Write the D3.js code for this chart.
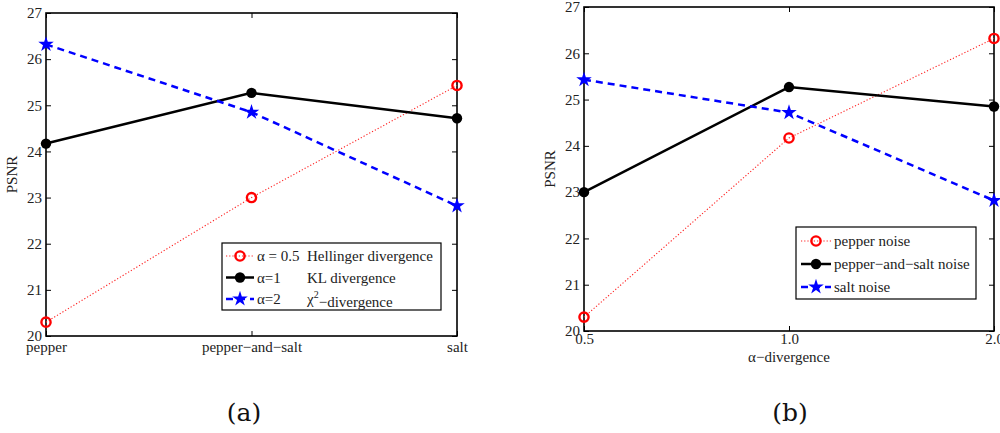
<!DOCTYPE html>
<html>
<head>
<meta charset="utf-8">
<script src="https://cdn.jsdelivr.net/npm/d3@7"></script>
<style>
  body { margin: 0; background: #fff; }
  svg { display: block; font-family: "Liberation Serif", "DejaVu Serif", serif; }
  .tick text { font-size: 15px; fill: #222; font-family: "Liberation Serif", serif; }
  .tick line { stroke: #000; stroke-width: 1; }
  .domain { display: none; }
</style>
</head>
<body>
<div id="chart"></div>
<script>
// ---- data ----
const noiseTypes = ["pepper", "pepper\u2212and\u2212salt", "salt"];
const alphaTicks = ["0.5", "1.0", "2.0"];
const psnrTicks = [20, 21, 22, 23, 24, 25, 26, 27];

// panel (a): one series per alpha, across noise types
const hellinger = [20.3, 23.0, 25.43];
const klDiv = [24.17, 25.27, 24.72];
const chi2Div = [26.32, 24.85, 22.82];

// panel (b): one series per noise type, across alpha
const pepperNoise = [20.3, 24.17, 26.32];
const pepperSaltNoise = [23.0, 25.27, 24.85];
const saltNoise = [25.43, 24.72, 22.82];

const W = 1000, H = 433;
const FS = 15;
const svg = d3.select("#chart").append("svg").attr("width", W).attr("height", H);

const styles = {
  red:   { stroke: "#ff2020", width: 1.1, dash: "1.2,2", marker: "circle" },
  black: { stroke: "#000", width: 2.5, dash: null, marker: "dot" },
  blue:  { stroke: "#0000ff", width: 2.5, dash: "7,5", marker: "star" }
};

function drawMarker(g, kind, x, y) {
  if (kind === "circle") {
    g.append("circle").attr("cx", x).attr("cy", y).attr("r", 4.6)
      .attr("fill", "none").attr("stroke", "#ff0000").attr("stroke-width", 2.4);
  } else if (kind === "dot") {
    g.append("circle").attr("cx", x).attr("cy", y).attr("r", 5.2).attr("fill", "#000");
  } else {
    g.append("path").attr("d", d3.symbol().type(d3.symbolStar).size(75)())
      .attr("transform", `translate(${x},${y})`).attr("fill", "#0000ff");
  }
}

function panel(opt) {
  const { x0, x1, y0, y1, cats, series } = opt;
  const x = d3.scalePoint().domain(cats).range([x0, x1]).padding(0);
  const y = d3.scaleLinear().domain([20, 27]).range([y1, y0]);
  const g = svg.append("g");

  g.append("g").attr("transform", `translate(${x0},0)`)
    .call(d3.axisLeft(y).tickValues(psnrTicks).tickFormat(d3.format("d"))
      .tickSize(-5).tickSizeOuter(0).tickPadding(4));
  g.append("g").attr("transform", `translate(${x1},0)`)
    .call(d3.axisRight(y).tickValues(psnrTicks).tickSize(-5).tickSizeOuter(0).tickFormat(""));
  g.append("g").attr("transform", `translate(0,${y1})`)
    .call(d3.axisBottom(x).tickSize(-5).tickSizeOuter(0).tickPadding(opt.xPad));
  g.append("g").attr("transform", `translate(0,${y0})`)
    .call(d3.axisTop(x).tickSize(-5).tickSizeOuter(0).tickFormat(""));

  g.append("rect").attr("x", x0).attr("y", y0).attr("width", x1 - x0).attr("height", y1 - y0)
    .attr("fill", "none").attr("stroke", "#000").attr("stroke-width", 1.6);

  g.append("text").attr("transform", `translate(${x0 - 29},${(y0 + y1) / 2}) rotate(-90)`)
    .attr("text-anchor", "middle").attr("font-size", FS).attr("fill", "#222").text("PSNR");

  const line = d3.line().x((d, i) => x(cats[i])).y(d => y(d));
  const order = ["red", "black", "blue"];
  series.forEach((vals, k) => {
    const st = styles[order[k]];
    g.append("path").attr("d", line(vals)).attr("fill", "none")
      .attr("stroke", st.stroke).attr("stroke-width", st.width)
      .attr("stroke-dasharray", st.dash);
  });
  series.forEach((vals, k) => {
    const st = styles[order[k]];
    vals.forEach((v, i) => drawMarker(g, st.marker, x(cats[i]), y(v)));
  });
  return { g, x, y };
}

// ---- panel (a) ----
const a = panel({ x0: 46, x1: 457, y0: 13, y1: 336, cats: noiseTypes, xPad: 5,
  series: [hellinger, klDiv, chi2Div] });

// legend (a)
(function () {
  const lg = a.g.append("g");
  lg.append("rect").attr("x", 222).attr("y", 243).attr("width", 219).attr("height", 67)
    .attr("fill", "#fff").attr("stroke", "#000").attr("stroke-width", 1.2);
  const rows = [
    { st: styles.red, lab: "\u03b1 = 0.5", desc: "Hellinger divergence" },
    { st: styles.black, lab: "\u03b1=1", desc: "KL divergence" },
    { st: styles.blue, lab: "\u03b1=2", desc: null }
  ];
  rows.forEach((r, i) => {
    const yy = 256 + i * 21.5;
    lg.append("line").attr("x1", 226).attr("x2", 254).attr("y1", yy).attr("y2", yy)
      .attr("stroke", r.st.stroke).attr("stroke-width", r.st.width).attr("stroke-dasharray", r.st.dash);
    drawMarker(lg, r.st.marker, 240, yy);
    lg.append("text").attr("x", 257).attr("y", yy).attr("dy", "0.35em")
      .attr("font-size", FS).attr("fill", "#222").text(r.lab);
    const t = lg.append("text").attr("x", 307).attr("y", yy).attr("dy", "0.35em")
      .attr("font-size", FS).attr("fill", "#222");
    if (r.desc) t.text(r.desc);
    else {
      t.append("tspan").text("\u03c7");
      t.append("tspan").attr("font-size", 10).attr("dy", "-0.6em").text("2");
      t.append("tspan").attr("dy", "0.6em").text("\u2212divergence");
    }
  });
})();

// ---- panel (b) ----
const b = panel({ x0: 584, x1: 994, y0: 7, y1: 331, cats: alphaTicks, xPad: 2,
  series: [pepperNoise, pepperSaltNoise, saltNoise] });

b.g.append("text").attr("x", 789).attr("y", 357).attr("dy", "0.35em").attr("text-anchor", "middle")
  .attr("font-size", FS).attr("fill", "#222").text("\u03b1\u2212divergence");

(function () {
  const lg = b.g.append("g");
  lg.append("rect").attr("x", 796).attr("y", 227).attr("width", 180).attr("height", 72)
    .attr("fill", "#fff").attr("stroke", "#000").attr("stroke-width", 1.2);
  const rows = [
    { st: styles.red, lab: "pepper noise" },
    { st: styles.black, lab: "pepper\u2212and\u2212salt noise" },
    { st: styles.blue, lab: "salt noise" }
  ];
  rows.forEach((r, i) => {
    const yy = 241 + i * 23;
    lg.append("line").attr("x1", 801).attr("x2", 831).attr("y1", yy).attr("y2", yy)
      .attr("stroke", r.st.stroke).attr("stroke-width", r.st.width).attr("stroke-dasharray", r.st.dash);
    drawMarker(lg, r.st.marker, 816, yy);
    lg.append("text").attr("x", 834).attr("y", yy).attr("dy", "0.35em")
      .attr("font-size", FS).attr("fill", "#222").text(r.lab);
  });
})();

// captions
svg.append("text").attr("x", 244).attr("y", 412).attr("dy", "0.35em").attr("text-anchor", "middle")
  .attr("font-size", 25).attr("font-family", "DejaVu Serif, serif").attr("fill", "#111").text("(a)");
svg.append("text").attr("x", 790).attr("y", 412).attr("dy", "0.35em").attr("text-anchor", "middle")
  .attr("font-size", 25).attr("font-family", "DejaVu Serif, serif").attr("fill", "#111").text("(b)");
</script>
</body>
</html>
